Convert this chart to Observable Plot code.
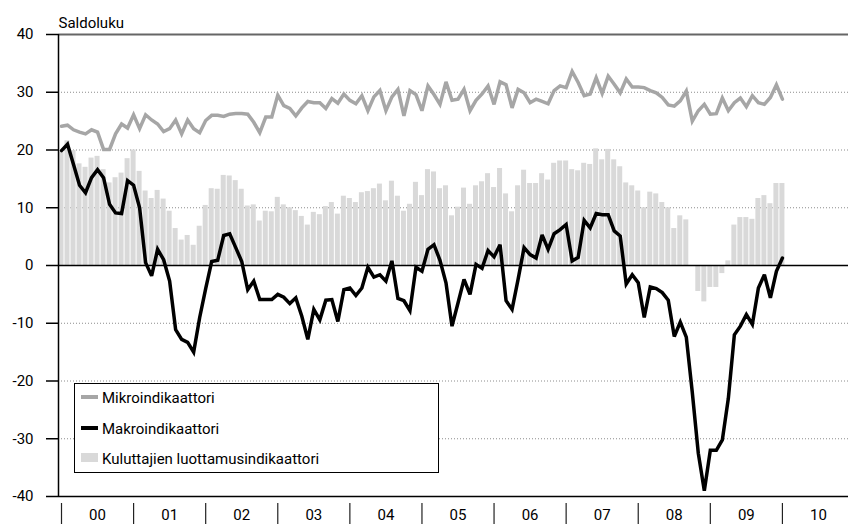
<!DOCTYPE html>
<html>
<head>
<meta charset="utf-8">
<script src="https://cdn.jsdelivr.net/npm/d3@7"></script>
<script src="https://cdn.jsdelivr.net/npm/@observablehq/plot@0.6"></script>
<style>
  body { margin: 0; background: #fff; font-family: Roboto, sans-serif; }
  #chart { position: relative; width: 848px; height: 524px; overflow: hidden; }
  .legend { position: absolute; left: 74px; top: 383px; width: 363px; height: 88px;
            border: 1.5px solid #000; background: #fff; }
  .sw { position: absolute; left: 6px; width: 17px; }
  .lab { position: absolute; left: 27px; font-size: 15px; line-height: 18px; color: #000; white-space: nowrap; }
</style>
</head>
<body>
<div id="chart">
  <div class="legend">
    <div class="sw" style="top:11px;height:3.5px;background:#a6a6a6"></div>
    <div class="lab" style="top:5px">Mikroindikaattori</div>
    <div class="sw" style="top:42px;height:3.5px;background:#000"></div>
    <div class="lab" style="top:36px">Makroindikaattori</div>
    <div class="sw" style="top:69px;height:9px;background:#d9d9d9"></div>
    <div class="lab" style="top:66px">Kuluttajien luottamusindikaattori</div>
  </div>
</div>
<script>
// kuukausisarjat tammikuusta 2000 alkaen
const startYear = 2000;
const yearLabels = ["00","01","02","03","04","05","06","07","08","09","10"];

const mikro = [
  24.1, 24.3, 23.5, 23.1, 22.8, 23.5, 23.1, 20.1, 20.1, 22.8, 24.5, 23.8,
  26.1, 23.7, 26.1, 25.2, 24.5, 23.2, 23.7, 25.2, 22.8, 25.2, 23.7, 23.0,
  25.1, 26.0, 26.0, 25.8, 26.2, 26.3, 26.3, 26.2, 24.8, 23.0, 25.7, 25.7,
  29.5, 27.7, 27.2, 25.9, 27.3, 28.4, 28.2, 28.2, 27.2, 28.9, 28.1, 29.7,
  28.6, 28.0, 29.4, 26.8, 29.2, 30.3, 26.8, 29.2, 30.5, 25.9, 30.3, 29.6,
  26.8, 31.1, 29.6, 27.9, 31.8, 28.6, 28.8, 30.5, 26.8, 28.6, 29.7, 31.1,
  27.9, 31.8, 31.3, 27.3, 30.5, 29.9, 28.2, 28.8, 28.4, 28.0, 30.3, 31.1,
  30.8, 33.6, 31.7, 29.4, 29.7, 32.5, 29.8, 32.8, 31.4, 29.9, 32.3, 30.9,
  30.9, 30.8, 30.3, 29.9, 29.1, 27.8, 27.6, 28.5, 30.2, 25.0, 26.8, 27.9,
  26.2, 26.3, 29.0, 26.8, 28.2, 29.0, 27.5, 29.4, 28.2, 27.9, 29.1, 31.3,
  28.8
];

const makro = [
  19.9, 21.0, 17.5, 13.9, 12.6, 15.2, 16.6, 15.2, 10.6, 9.1, 9.0, 14.7,
  13.9, 10.0, 0.5, -1.8, 2.8, 1.0, -2.7, -11.1, -12.8, -13.3, -15.0, -9.0,
  -4.0, 0.7, 0.9, 5.2, 5.5, 3.1, 0.7, -4.2, -2.7, -5.9, -5.9, -5.9,
  -5.0, -5.5, -6.6, -5.6, -8.8, -12.8, -7.6, -9.4, -6.0, -5.9, -9.7, -4.2,
  -3.9, -5.2, -3.9, -0.3, -2.0, -1.6, -2.7, 0.8, -5.7, -6.1, -7.8, -0.3,
  -1.0, 2.8, 3.6, 0.9, -3.0, -10.5, -6.5, -2.4, -5.0, 0.2, -0.5, 2.6,
  1.5, 3.6, -6.1, -7.6, -2.4, 3.1, 1.9, 1.3, 5.3, 2.8, 5.5, 6.2,
  7.1, 0.8, 1.4, 7.8, 6.5, 9.0, 8.8, 8.8, 6.0, 5.1, -3.2, -1.6,
  -3.0, -9.0, -3.7, -4.0, -4.7, -6.0, -12.3, -9.8, -12.4, -22.0, -32.5, -39.0,
  -32.0, -32.0, -30.2, -23.0, -12.0, -10.5, -8.5, -10.2, -3.9, -1.6, -5.6, -1.0,
  1.3
];

const kuluttajat = [
  19.6, 21.6, 19.9, 17.6, 17.0, 18.6, 18.9, 16.6, 14.3, 15.2, 16.0, 18.5,
  20.0, 16.3, 12.9, 11.6, 13.0, 11.5, 9.4, 6.4, 4.4, 5.2, 3.5, 6.8,
  10.4, 13.3, 13.2, 15.6, 15.5, 14.7, 13.2, 10.3, 10.5, 7.7, 9.4, 9.3,
  11.8, 10.5, 10.0, 9.5, 8.5, 7.0, 9.2, 8.8, 10.2, 10.9, 8.9, 12.0,
  11.6, 10.9, 12.6, 12.8, 13.3, 14.1, 11.2, 14.6, 12.0, 9.4, 10.6, 14.4,
  12.1, 16.6, 16.2, 13.3, 13.8, 8.6, 10.1, 13.4, 10.6, 13.8, 14.5, 15.9,
  13.5, 16.8, 12.4, 9.3, 13.8, 16.5, 14.2, 14.2, 15.9, 14.8, 17.7, 18.1,
  18.1, 16.6, 16.4, 17.7, 17.5, 20.2, 18.3, 20.1, 18.3, 17.1, 14.3, 13.8,
  12.9, 10.0, 12.7, 12.4, 10.9, 10.0, 6.4, 8.6, 7.9, 0.0, -4.5, -6.3,
  -3.8, -3.8, -1.4, 0.8, 7.0, 8.3, 8.3, 8.0, 11.6, 12.1, 10.7, 14.2,
  14.2
];

const yTicks = [-40, -30, -20, -10, 0, 10, 20, 30, 40];
const gridValues = [-30, -20, -10, 10, 20, 30];

// kuukausi-indeksi: 0 = tammikuu 2000
const rows = mikro.map((m, i) => ({i, mikro: m, makro: makro[i], kuluttajat: kuluttajat[i]}));
const yearStarts = yearLabels.map((_, k) => k * 12);
const yearMiddles = yearLabels.map((_, k) => k * 12 + 6);

const chart = Plot.plot({
  width: 848,
  height: 524,
  marginLeft: 58,
  marginRight: 0,
  marginTop: 34,
  marginBottom: 28,
  x: {domain: [-0.5, 131]},
  y: {domain: [-40, 40]},
  style: {fontFamily: "Roboto, sans-serif", fontSize: "15px", color: "#000", background: "#fff"},
  marks: [
    Plot.ruleY(gridValues, {stroke: "#8c8c8c", strokeDasharray: "1,2"}),
    Plot.rectY(rows, {x1: d => d.i - 0.5, x2: d => d.i + 0.5, y1: 0, y2: "kuluttajat",
                      fill: "#d9d9d9", insetLeft: 0.5, insetRight: 0.5}),
    Plot.ruleY([0], {stroke: "#000", strokeWidth: 1.5}),
    Plot.ruleY([40], {stroke: "#666", strokeWidth: 2}),
    Plot.ruleY([-40], {stroke: "#000", strokeWidth: 1.5}),
    Plot.ruleX([-0.5], {stroke: "#000", strokeWidth: 1.5}),
    Plot.axisY({ticks: yTicks, tickSize: 12, tickPadding: 13, tickFormat: d => String(d),
                label: null, strokeWidth: 1.5}),
    Plot.axisX({ticks: yearStarts, tickSize: 21, dy: 7, tickFormat: () => "", label: null,
                stroke: "#222", strokeWidth: 1.2}),
    Plot.axisX({ticks: yearMiddles, tickSize: 0, tickPadding: 13,
                tickFormat: d => yearLabels[(d - 6) / 12], label: null}),
    Plot.line(rows, {x: "i", y: "mikro", stroke: "#a6a6a6", strokeWidth: 3.5,
                     strokeLinejoin: "miter", strokeMiterlimit: 3}),
    Plot.line(rows, {x: "i", y: "makro", stroke: "#000", strokeWidth: 3.5,
                     strokeLinejoin: "miter", strokeMiterlimit: 3}),
    Plot.text(["Saldoluku"], {text: d => d, frameAnchor: "top-left", dy: -17,
                              textAnchor: "start", fontSize: 15})
  ]
});

d3.select("#chart").insert(() => chart, ".legend");
</script>
</body>
</html>
